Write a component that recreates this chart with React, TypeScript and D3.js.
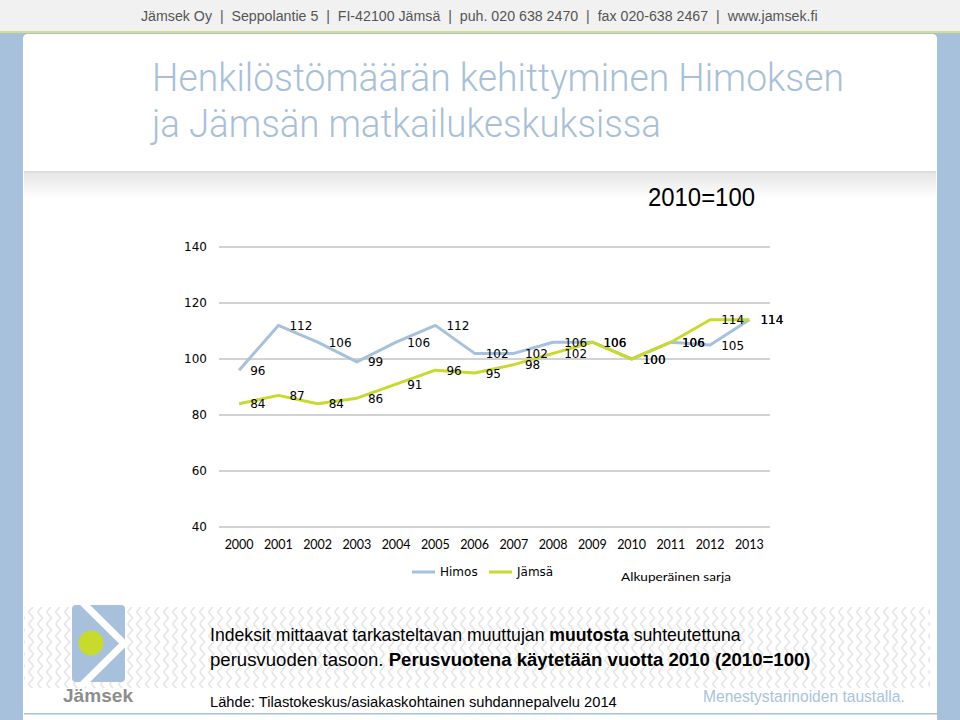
import React, { useLayoutEffect, useRef, useState } from "react";
import * as d3 from "d3";

const years = ["2000","2001","2002","2003","2004","2005","2006","2007","2008","2009","2010","2011","2012","2013"];
const himos = [96,112,106,99,106,112,102,102,106,106,100,106,105,114];
const jamsa = [84,87,84,86,91,96,95,98,102,106,100,106,114,114];
const yTicks = [40,60,80,100,120,140];
const seriesNames = ["Himos","Jämsä"];

const BLUE = "#a7c1dc";
const HIMOS_C = "#a5c1dc";
const JAMSA_C = "#c8da2b";

function FitText(props: { x: number; y: number; width: number; children: any; [k: string]: any }) {
  const { x, y, width, children, ...rest } = props;
  const ref = useRef<SVGTextElement>(null);
  const [sx, setSx] = useState(1);
  useLayoutEffect(() => {
    if (ref.current) {
      const w = ref.current.getComputedTextLength();
      if (w > 0) setSx(width / w);
    }
  }, [width]);
  return (
    <text ref={ref} transform={`translate(${x},${y}) scale(${sx},1)`} {...rest}>
      {children}
    </text>
  );
}

export default function App() {
  const x = d3.scaleBand<string>().domain(years).range([219.5, 769]);
  const bw = x.bandwidth();
  const cx = (yr: string) => (x(yr) as number) + bw / 2;
  const y = d3.scaleLinear().domain([40, 140]).range([527, 247]);
  const line = d3.line<number>().x((_, i) => cx(years[i])).y((v) => y(v));
  const series = [
    { name: seriesNames[0], values: himos, color: HIMOS_C },
    { name: seriesNames[1], values: jamsa, color: JAMSA_C },
  ];
  const narrow = "'Liberation Sans Narrow', 'Liberation Sans', Arial, sans-serif";
  const light = "Roboto, 'Liberation Sans', sans-serif";
  const arial = "'Liberation Sans', Arial, sans-serif";
  const verd = "'DejaVu Sans', Verdana, sans-serif";
  const cal = "Lato, 'Open Sans', sans-serif";

  return (
    <svg width={960} height={720} style={{ position: "absolute", left: 0, top: 0 }}>
      <defs>
        <pattern id="chev" width={9} height={12} patternUnits="userSpaceOnUse">
          <path d="M1.5,0 L6.5,6 L1.5,12" fill="none" stroke="#e7e7e7" strokeWidth={1.8} />
        </pattern>
        <linearGradient id="shad" x1="0" y1="0" x2="0" y2="1">
          <stop offset="0" stopColor="#e6e6e6" />
          <stop offset="1" stopColor="#ffffff" />
        </linearGradient>
      </defs>
      {/* background frame */}
      <rect x={0} y={0} width={960} height={720} fill={BLUE} />
      <rect x={0} y={0} width={960} height={31} fill="#f1f1f1" />
      <rect x={0} y={31} width={960} height={2} fill="#d6df86" />
      <path d="M23,720 L23,39 Q23,34 28,34 L932,34 Q937,34 937,39 L937,720 Z" fill="#ffffff" />
      <FitText x={141} y={21} width={677} fontFamily={narrow} fontSize={14} fill="#555" xmlSpace="preserve">
        Jämsek Oy  |  Seppolantie 5  |  FI-42100 Jämsä  |  puh. 020 638 2470  |  fax 020-638 2467  |  www.jamsek.fi
      </FitText>
      {/* title */}
      <text x={152} y={91} fontFamily={light} fontWeight={300} fontSize={38} fill="#a7c0da" textLength={692} lengthAdjust="spacingAndGlyphs">
        Henkilöstömäärän kehittyminen Himoksen
      </text>
      <text x={152} y={137} fontFamily={light} fontWeight={300} fontSize={38} fill="#a7c0da" textLength={509} lengthAdjust="spacingAndGlyphs">
        ja Jämsän matkailukeskuksissa
      </text>
      {/* shadow band */}
      <rect x={24} y={171} width={912} height={2} fill="#dedede" />
      <rect x={24} y={173} width={912} height={26} fill="url(#shad)" />
      <text x={648} y={206} fontFamily={narrow} fontSize={25} fill="#000" textLength={107} lengthAdjust="spacingAndGlyphs">
        2010=100
      </text>
      {/* gridlines & y axis */}
      {yTicks.map((t) => (
        <g key={t}>
          <line x1={219} x2={770} y1={y(t)} y2={y(t)} stroke="#a6a6a6" strokeWidth={1} />
          <text x={207} y={y(t)} dy="0.36em" textAnchor="end" fontFamily={verd} fontSize={12} fill="#000">
            {t}
          </text>
        </g>
      ))}
      {years.map((yr) => (
        <text key={yr} x={cx(yr)} y={549} textAnchor="middle" fontFamily={cal} fontSize={12.5} fill="#000">
          {yr}
        </text>
      ))}
      {/* lines */}
      {series.map((s) => (
        <path key={s.name} d={line(s.values) as string} fill="none" stroke={s.color} strokeWidth={3} strokeLinejoin="round" />
      ))}
      {/* labels */}
      {series.map((s) =>
        s.values.map((v, i) => (
          <text key={s.name + i} x={cx(years[i]) + 11} y={y(v)} dy="0.38em" fontFamily={verd} fontSize={12} fill="#000">
            {v}
          </text>
        ))
      )}
      {/* legend */}
      <line x1={412} x2={435} y1={572} y2={572} stroke={HIMOS_C} strokeWidth={3} />
      <text x={440} y={572} dy="0.36em" fontFamily={verd} fontSize={12} fill="#000">{seriesNames[0]}</text>
      <line x1={489} x2={512} y1={572} y2={572} stroke={JAMSA_C} strokeWidth={3} />
      <text x={517} y={572} dy="0.36em" fontFamily={verd} fontSize={12} fill="#000">{seriesNames[1]}</text>
      <text x={621} y={581} fontFamily={cal} fontSize={12} fill="#000" textLength={110} lengthAdjust="spacingAndGlyphs">
        Alkuperäinen sarja
      </text>
      {/* bottom band */}
      <rect x={24} y={607} width={906} height={81} fill="url(#chev)" />
      {/* logo */}
      <rect x={72} y={605} width={53} height={77} rx={4} fill={BLUE} />
      <path d="M80,600 L124,643.5 L80,687" fill="none" stroke="#ffffff" strokeWidth={7} />
      <circle cx={91} cy={643} r={12.5} fill="#c8da2b" />
      <text x={63} y={702} fontFamily={arial} fontWeight="bold" fontSize={19} fill="#8d8d8d" textLength={70} lengthAdjust="spacingAndGlyphs">
        Jämsek
      </text>
      {/* explanatory text */}
      <FitText x={210} y={641} width={531} fontFamily={arial} fontSize={19} fill="#000">
        Indeksit mittaavat tarkasteltavan muuttujan <tspan fontWeight="bold">muutosta</tspan> suhteutettuna
      </FitText>
      <FitText x={210} y={666} width={601} fontFamily={arial} fontSize={19} fill="#000">
        perusvuoden tasoon. <tspan fontWeight="bold">Perusvuotena käytetään vuotta 2010 (2010=100)</tspan>
      </FitText>
      <FitText x={210} y={707} width={407} fontFamily={arial} fontSize={15} fill="#000">
        Lähde: Tilastokeskus/asiakaskohtainen suhdannepalvelu 2014
      </FitText>
      <FitText x={703} y={702} width={202} fontFamily={arial} fontSize={16} fill="#a9c3dc">
        Menestystarinoiden taustalla.
      </FitText>
      <rect x={24} y={713} width={913} height={1.5} fill={BLUE} />
    </svg>
  );
}
